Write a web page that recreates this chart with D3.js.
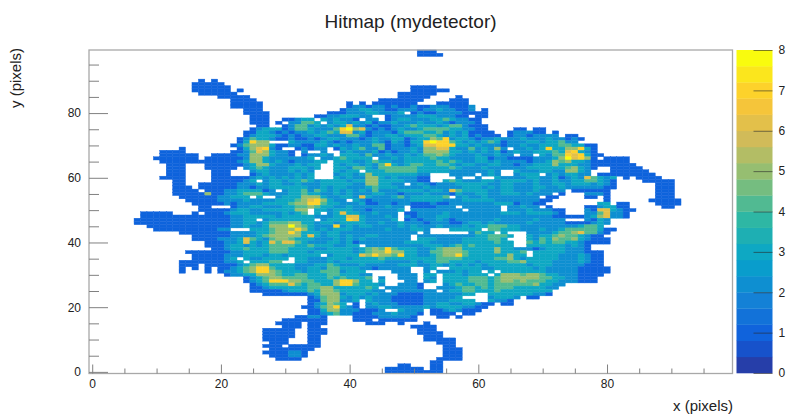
<!DOCTYPE html>
<html>
<head>
<meta charset="utf-8">
<script src="https://cdn.jsdelivr.net/npm/d3@7"></script>
<style>
body { margin: 0; background: #fff; }
text { font-family: "Liberation Sans", sans-serif; fill: #222; }
</style>
</head>
<body>
<div id="main"></div>
<script>
const W = 788;
const H = 414;

// one entry per y bin: the counts in x bins 0,1,2... (groups of ten, "." = empty)
const hitRows = [
[99, ".......... .......... .......... .......... .......... .111......"],
[98, ".......... .......... .......... .......... .......... .1111....."],
[90, ".......... .......1.1"],
[89, ".......... ......1111 1........."],
[88, ".......... ......1111 11........ .......... .......... 1111......"],
[87, ".......... ......1111 11.1...... .......... .......... 111111...."],
[86, ".......... .......111 111....... .......... ........11 1111......"],
[85, ".......... .......... 11111..... .......... ........11 111....1.."],
[84, ".......... .......... ..1111.... .......... .....11111 11....111."],
[83, ".......... .......... ..11111... .......... 1.1.111111 1...11111."],
[82, ".......... .......... ..11111... .......... 1221221211 2112221112"],
[81, ".......... .......... ....111... .........1 2233221122 2122322112 .1"],
[80, ".......... .......... ....1111.. .......111 222332223. 1211222211 11"],
[79, ".......... .......... .....111.. .....11223 3322..1222 233322211. 11"],
[78, ".......... .......... .....111.. 11233.3232 21.22.1233 2223343221 1"],
[77, ".......... .......... .....111.1 .22443.233 2323122322 2322321222 1"],
[76, ".......... .......... ......11.. 1244232323 6221211223 4333234421 11"],
[75, ".......... .......... .....12333 1244322247 8562121232 2344443322 11....11.1 1"],
[74, ".......... .......... ....113321 2122323436 6231222134 4433423231 111..12221 1.1"],
[73, ".......... .......... ....123332 1212233222 4421223323 3344323231 2111.12212 222.11"],
[72, ".......... .......... ...1243321 1211212332 2212322331 2335472332 1223222322 2322121"],
[71, ".......... .......... ...13755.. .322223212 1222321321 3378774323 2343122233 233422"],
[70, ".......... .......... ..12455531 1221133232 2322441221 2366777332 3222122322 333443311"],
[69, ".......... ....1..... ...1356721 ..12122.13 2342241222 3255663224 23252.2232 373355731"],
[68, ".......... .1111..... ..11246532 21.2..2..2 3222312122 3255553323 2323123223 334367321"],
[67, ".......... .111111..1 1112255532 21.12232.3 3324223223 2344543222 322322.22. 3244767311"],
[66, ".......... 1111111.11 1111255322 22223.2234 3333.22323 3334332222 3312211112 223586751. 1111"],
[65, ".......... .111111111 1112355323 2122233.33 3223433223 3333434322 3323222212 2354533211 1111"],
[64, ".......... ..111...11 1111235532 223233..32 3323247323 4433443233 2233221223 3353332211 11111"],
[63, ".......... ..111...11 111.234322 233323..33 2443244444 4333334322 2322222233 333345321. .11111"],
[62, ".......... ..111....1 11...23322 23232...32 33.3334444 4333332222 2232..3222 33225532.. .111111"],
[61, ".......... ..111....1 11...12322 22323...23 3235333333 322...2222 .232..2333 .2323322.1 11111111"],
[60, ".......... .1111....1 1111123232 32323...32 3225532322 211....2.. 2..3222233 2231232643 23.1.1111."],
[59, ".......... ...11....1 111123.233 2334323333 2335533332 211..34322 2332333323 2232233443 21....1111 1"],
[58, ".......... ...11..111 1112223233 2232223333 322553322. 2321222333 3322332223 2233233323 21......11 1"],
[57, ".......... ...111.111 1112212233 3333223233 2223433322 2232222233 3232332223 3223222222 11......11 1"],
[56, ".......... ...1111.11 122333312. 2334243232 3232422233 3323326433 3322332223 2222.11111 1.......11 1"],
[55, ".......... ...1111151 1223444322 2334332232 3222332212 2232221322 3322333232 22.1...222 1.......11 1"],
[54, ".......... ....111111 22333.3..2 3335553223 3263222342 333334.232 2322222222 .11....11. 1.......11 1"],
[53, ".......... .....11111 2222322223 3345675322 .321222222 3333322233 3332222222 11........ 1......111 11"],
[52, ".......... ......1111 1212222333 3455774332 2231122122 1112112222 2223331221 1........3 3.11....11 11"],
[51, ".......... .......11. ..12233222 3344543322 322222322. 1111222.22 2222.22322 .1.....112 3311.....1 1"],
[50, ".......... .......111 1123322333 3355.33233 322122223. 22222222.2 2222.22232 2211...216 63211"],
[49, "........11 111...1.11 1233322222 3234.3.236 33223222.1 1222232222 2222333233 3321...224 6221"],
[48, "........11 1111111111 1122333332 3333322233 66322232.2 1222332222 2222222222 2211111235 6221"],
[47, ".......111 1111111111 112233.233 33333.2333 76322223.1 2122321222 2223222223 2222...213 2"],
[46, ".......111 1111111111 1122332344 4553323323 3332232232 2212221123 3232222232 2222111123 2"],
[45, ".........1 1111111111 1122322355 5854322272 3233222232 3222322232 3344433222 2222223443"],
[44, ".......... 1111111111 22...33345 5575323233 3222223222 332...3333 3.44333222 3223444443 11"],
[43, ".......... ....111111 1122223345 5753332332 2222222222 2.2......2 433.3...22 2234456442 1"],
[42, ".......... ......1111 1122223455 5553632332 3223322222 .222222222 334443..32 3345443211"],
[41, ".......... ......1111 2223643245 5433322232 3232222222 .333222233 33443...32 4354453211 1"],
[40, ".......... ........11 1223632364 6643222332 3122222223 3332222233 333433..43 4344332111 1"],
[39, ".......... ........11 1233232344 4433433322 33.2222222 2233323434 333333..33 33332321"],
[38, ".......... .........1 1233433344 4333322333 3234547433 3223455533 3335332221 23332221"],
[37, ".......... .....11111 1122333344 4333233333 3234557553 3224455543 33353334.3 3333222111"],
[36, ".......... ......1111 1222333233 233333.233 3365755473 3223455743 33333533.3 3332223211"],
[35, ".......... ......1111 123.322333 3.33222333 2333343333 3333444433 3334453233 3332223211"],
[34, ".......... ....111111 1223.33344 ..33222323 3333332222 3233443333 2333344533 3322223211"],
[33, ".......... ....111.11 1112345533 3322233432 2232222233 3223323232 3233333323 3322222111"],
[32, ".......... ....1.1.1. 1123457743 3322332443 3322122222 ..23..3333 3223333332 3222221111 1"],
[31, ".......... ....1...1. 1223457754 3332334442 333....222 ..2.222323 3.3.333333 3222221111 1"],
[30, ".......... .......... .122335554 3344333443 3322....22 2.33.33323 33.3555455 4332221111"],
[29, ".......... .......... ....123455 4444333434 3334.2..22 2.32.33334 4434555555 443322111"],
[28, ".......... .......... ....123477 7554433357 7533.3...2 2.23.33334 4434554544 433222111"],
[27, ".......... .......... .....12344 4643443357 743332..22 21...23433 4434444445 3322"],
[26, ".......... .......... .....11233 3333445533 33343.2222 21..222344 3434443333 322"],
[25, ".......... .......... .....11111 2333435543 333322.222 2222.23344 3334333333 33"],
[24, ".......... .......... .......111 1111235552 3332322211 1122222233 ..33333332 21"],
[23, ".......... .......... .......... ....124553 2323222111 11222223.. ..23332.11"],
[22, ".......... .......... .......... ....114552 23.3222111 1122223333 ..3221"],
[21, ".......... .......... .......... ....123543 .1.2322211 1122332233 211.11"],
[20, ".......... .......... .......... ...1124573 21.2233222 2232333322 11"],
[19, ".......... .......... .......... ....113552 221112..32 22.1123211 1"],
[18, ".......... .......... .......... ....112342 2111222322 21.1111.11"],
[17, ".......... .......... .......... ..11221... .111122222 1...11.1"],
[16, ".......... .......... .......... 1111111... .111.11111 1"],
[15, ".......... .......... .........1 111.111... ...111..1. ..1"],
[14, ".......... .......... .......... 111.11.... .......... 1111"],
[13, ".......... .......... .......111 11..111... .......... .111"],
[12, ".......... .......... .......111 11..111... .......... .1111"],
[11, ".......... .......... .......111 11..11.... .......... ..111"],
[10, ".......... .......... .......111 1...11.... .......... ..11111"],
[9,  ".......... .......... ........11 1...11.... .......... ....111"],
[8,  ".......... .......... .......111 .11111.... .......... .....11"],
[7,  ".......... .......... ........11 11111..... .......... .....111"],
[6,  ".......... .......... .......111 1221...... .......... .....111"],
[5,  ".......... .......... ........11 1221...... .......... .....111"],
[4,  ".......... .......... .........1 111....... .......... ....1111"],
[3,  ".......... .......... .......... .......... .......... ...11"],
[2,  ".......... .......... .......... .......... ........11 ...11"],
[1,  ".......... .......... .......... .......... ......1111 11.11"],
[0,  ".......... .......... .......... .......... ......1111 11111"]
];

const xMajor = [0, 20, 40, 60, 80];
const yMajor = [0, 20, 40, 60, 80];
const axisMinor = [5, 10, 15, 25, 30, 35, 45, 50, 55, 65, 70, 75, 85, 90, 95];
const zTicks = [0, 1, 2, 3, 4, 5, 6, 7, 8];
const NBANDS = 20;

// ROOT kBird palette stops
const birdColors = ["#352a87", "#0f5cdd", "#1481d6", "#06a4ca", "#2eb7a4", "#87bf77", "#d1bb59", "#fec832", "#f9fb0e"];

var svg = d3.select("#main").append("svg")
    .attr("width", W)
    .attr("height", H)
    .style("display", "block");

// the reference is a resampled screenshot, keep the cell edges a bit soft
svg.append("defs").append("filter")
    .attr("id", "soft")
    .append("feGaussianBlur")
    .attr("stdDeviation", 0.45);

var x = d3.scaleLinear().domain([-0.5, 99.5]).range([89, 732.5]);
var y = d3.scaleLinear().domain([-0.5, 99.5]).range([373.5, 50]);
var z = d3.scaleLinear().domain([0, 8]).range([373, 50]);

var bird = d3.scaleLinear()
    .domain(birdColors.map(function(c, i){ return i / (birdColors.length - 1); }))
    .range(birdColors);

// same band lookup as ROOT's COLZ: 20 contours between 0 and 8
var bandColor = function(i){
    return bird(Math.min((i + 0.99) / NBANDS, 1));
};
var countColor = function(v){
    return bandColor(Math.min(Math.floor(v * NBANDS / 8 + 0.01), NBANDS - 1));
};

var cells = [];
hitRows.forEach(function(row){
    row[1].replace(/ /g, "").split("").forEach(function(ch, i){
        if (ch !== ".") cells.push({x: i, y: row[0], v: +ch});
    });
});

svg.append("g").attr("id", "cells")
    .attr("filter", "url(#soft)")
    .selectAll("rect")
    .data(cells)
    .enter()
    .append("rect")
    .attr("x", function(d){ return x(d.x - 0.5); })
    .attr("y", function(d){ return y(d.y + 0.5); })
    .attr("width", x(1) - x(0))
    .attr("height", y(0) - y(1))
    .attr("fill", function(d){ return countColor(d.v); })
    .attr("stroke", function(d){ return countColor(d.v); })
    .attr("stroke-width", 0.4);

// frame
svg.append("rect")
    .attr("x", 89).attr("y", 50)
    .attr("width", 643.5).attr("height", 323.5)
    .attr("fill", "none")
    .attr("stroke", "#a8a8a8")
    .attr("stroke-width", 1.3);

var styleAxis = function(g){
    g.select(".domain").remove();
    g.selectAll("line").attr("stroke", "#808080").attr("stroke-width", 1);
};

// x axis, ticks pointing up
svg.append("g")
    .attr("transform", "translate(0,373.5)")
    .call(d3.axisBottom(x).tickValues(axisMinor).tickSize(-5).tickFormat(""))
    .call(styleAxis);
var xAxisG = svg.append("g")
    .attr("transform", "translate(0,373.5)")
    .call(d3.axisBottom(x).tickValues(xMajor).tickSize(-9).tickPadding(4))
    .call(styleAxis);
xAxisG.selectAll("text").attr("y", 14).attr("dy", 0).style("font-size", "12px").style("font-family", "Liberation Sans");

// y axis, ticks pointing right
svg.append("g")
    .attr("transform", "translate(89,0)")
    .call(d3.axisLeft(y).tickValues(axisMinor).tickSize(-10).tickFormat(""))
    .call(styleAxis);
var yAxisG = svg.append("g")
    .attr("transform", "translate(89,0)")
    .call(d3.axisLeft(y).tickValues(yMajor).tickSize(-19))
    .call(styleAxis);
yAxisG.selectAll("text").attr("x", -8).style("font-size", "12px").style("font-family", "Liberation Sans");

// colour bar
svg.append("g").attr("id", "palette")
    .selectAll("rect")
    .data(d3.range(NBANDS))
    .enter()
    .append("rect")
    .attr("x", 736.5)
    .attr("width", 36)
    .attr("y", function(i){ return z((i + 1) * 8 / NBANDS); })
    .attr("height", z(0) - z(8 / NBANDS) + 0.3)
    .attr("fill", bandColor);

var zAxisG = svg.append("g")
    .attr("transform", "translate(772.5,0)")
    .call(d3.axisRight(z).tickValues(zTicks).tickSize(-19).tickPadding(6))
    .call(styleAxis);
zAxisG.selectAll("line").attr("stroke", "#2a2a2a").attr("stroke-opacity", 0.6);
zAxisG.selectAll("text").attr("x", 6).style("font-size", "12px").style("font-family", "Liberation Sans");

// titles
svg.append("text")
    .attr("x", 410.5).attr("y", 28)
    .attr("text-anchor", "middle")
    .style("font-size", "19px")
    .text("Hitmap (mydetector)");

svg.append("text")
    .attr("transform", "translate(21,108) rotate(-90)")
    .style("font-size", "15px")
    .text("y (pixels)");

svg.append("text")
    .attr("x", 733).attr("y", 410.5)
    .attr("text-anchor", "end")
    .style("font-size", "15px")
    .text("x (pixels)");
</script>
</body>
</html>
